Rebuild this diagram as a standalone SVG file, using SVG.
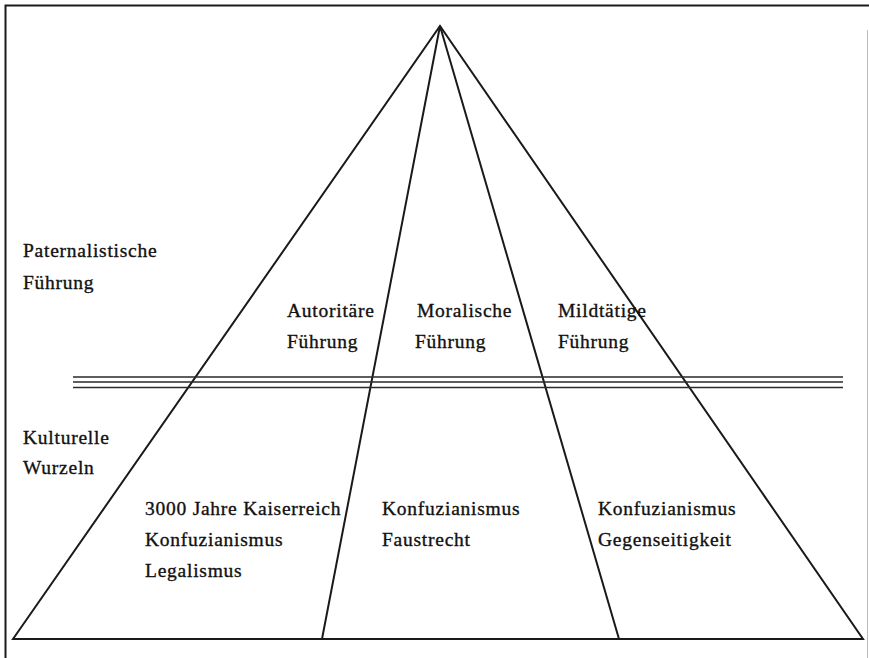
<svg xmlns="http://www.w3.org/2000/svg" width="869" height="658" viewBox="0 0 869 658">
<style>
.t{font-family:"Liberation Serif","Times New Roman",serif;font-size:19.5px;letter-spacing:0.75px;fill:#111;stroke:#111;stroke-width:0.35}
.ln{stroke:#1a1a1a;stroke-width:2;fill:none;stroke-linecap:round}
.dl{stroke:#2a2a2a;stroke-width:1.6;fill:none}
</style>
<rect width="869" height="658" fill="#fff"/>
<g id="frame">
<path d="M5.5,658 V5.5 H869" class="ln" stroke-linecap="butt"/>
<path d="M867.5,30 V658" stroke="#bbb" stroke-width="1" fill="none"/>
</g>
<g id="connectors">
<path class="ln" d="M13,639 L440,26 L863,639 Z"/>
<path class="ln" d="M322,639 L440,26 L619,639"/>
<path class="dl" d="M73,377 H843 M73,382 H843 M73,387.5 H843"/>
</g>
<g id="paternalistische"><text class="t" x="23" y="257">Paternalistische</text><text class="t" x="23" y="289">Führung</text></g>
<g id="autoritaere"><text class="t" x="287" y="317">Autoritäre</text><text class="t" x="287" y="348">Führung</text></g>
<g id="moralische"><text class="t" x="417" y="317">Moralische</text><text class="t" x="415" y="348">Führung</text></g>
<g id="mildtaetige"><text class="t" x="558" y="317">Mildtätige</text><text class="t" x="558" y="348">Führung</text></g>
<g id="kulturelle"><text class="t" x="23" y="444">Kulturelle</text><text class="t" x="23" y="474">Wurzeln</text></g>
<g id="wurzel-links"><text class="t" x="145" y="515">3000 Jahre Kaiserreich</text><text class="t" x="145" y="546">Konfuzianismus</text><text class="t" x="145" y="577">Legalismus</text></g>
<g id="wurzel-mitte"><text class="t" x="382" y="515">Konfuzianismus</text><text class="t" x="382" y="546">Faustrecht</text></g>
<g id="wurzel-rechts"><text class="t" x="598" y="515">Konfuzianismus</text><text class="t" x="598" y="546">Gegenseitigkeit</text></g>
</svg>
